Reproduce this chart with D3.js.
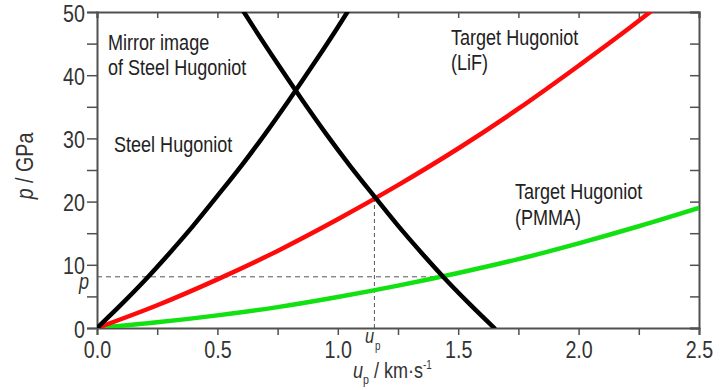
<!DOCTYPE html>
<html><head><meta charset="utf-8">
<script src="https://cdn.jsdelivr.net/npm/d3@7"></script>
<style>
body{margin:0;background:#fff;}
svg{display:block;font-family:"Liberation Sans",Arial,sans-serif;}
</style></head><body>
<svg id="c" width="728" height="390"></svg>
<script>
// Particle velocity (km/s) and pressure (GPa)
const steelU = [0, 0.1, 0.2, 0.3, 0.4, 0.5, 0.6, 0.7, 0.8, 0.9, 1.0, 1.04];
const steelP = [0, 3.7, 7.6, 11.8, 16.2, 20.9, 25.7, 30.8, 36.2, 41.8, 47.6, 50.0];
const mirrorU = [0.61, 0.65, 0.75, 0.85, 0.95, 1.05, 1.15, 1.25, 1.35, 1.45, 1.55, 1.65];
const mirrorP = [50.0, 47.6, 41.8, 36.2, 30.8, 25.7, 20.9, 16.2, 11.8, 7.6, 3.7, 0];
const lifU = [0, 0.25, 0.5, 0.75, 1.0, 1.25, 1.5, 1.75, 2.0, 2.25, 2.3];
const lifP = [0, 3.6, 7.7, 12.2, 17.2, 22.6, 28.4, 34.7, 41.5, 48.6, 50.1];
const pmmaU = [0, 0.25, 0.5, 0.75, 1.0, 1.25, 1.5, 1.75, 2.0, 2.25, 2.5];
const pmmaP = [0, 0.9, 2.0, 3.3, 4.9, 6.7, 8.7, 10.9, 13.4, 16.1, 19.0];
// Intersection markers
const upPmma = 1.437, pPmma = 8.1;   // horizontal dashed "p"
const upLif = 1.152, pLif = 20.5;    // vertical dashed "u_p"
// Axis ticks
const xTicks = [0, 0.25, 0.5, 0.75, 1.0, 1.25, 1.5, 1.75, 2.0, 2.25, 2.5];
const xLabels = [0, 0.5, 1.0, 1.5, 2.0, 2.5];
const yTicks = [0, 5, 10, 15, 20, 25, 30, 35, 40, 45, 50];
const yLabels = [0, 10, 20, 30, 40, 50];

const SX = 0.82; // condensed look
const svg = d3.select("#c");
const x = d3.scaleLinear().domain([0, 2.5]).range([97, 699]);
const y = d3.scaleLinear().domain([0, 50]).range([328, 12]);
const axisCol = "#505050";

svg.append("defs").append("clipPath").attr("id", "clip")
  .append("rect").attr("x", 97).attr("y", 12).attr("width", 602).attr("height", 316);

// dashed guide lines
svg.append("line").attr("x1", x(0)).attr("x2", x(upPmma)).attr("y1", y(pPmma)).attr("y2", y(pPmma))
  .attr("stroke", "#555").attr("stroke-width", 1).attr("stroke-dasharray", "5,4");
svg.append("line").attr("x1", x(upLif)).attr("x2", x(upLif)).attr("y1", y(0)).attr("y2", y(pLif))
  .attr("stroke", "#555").attr("stroke-width", 1).attr("stroke-dasharray", "4,3");

// axes
const fmt = d => xLabels.includes(d) ? d.toFixed(1) : "";
const gB = svg.append("g").attr("transform", `translate(0,${y(0)})`)
  .call(d3.axisBottom(x).tickValues(xTicks).tickSize(7).tickPadding(3).tickFormat(fmt));
const gT = svg.append("g").attr("transform", `translate(0,${y(50)})`)
  .call(d3.axisTop(x).tickValues(xTicks).tickSize(-6).tickFormat(""));
const gL = svg.append("g").attr("transform", `translate(${x(0)},0)`)
  .call(d3.axisLeft(y).tickValues(yTicks).tickSize(10).tickPadding(1).tickFormat(d => yLabels.includes(d) ? d : ""));
const gR = svg.append("g").attr("transform", `translate(${x(2.5)},0)`)
  .call(d3.axisRight(y).tickValues(yTicks).tickSize(-9).tickFormat(""));
[gB, gT, gL, gR].forEach(g => {
  g.select(".domain").attr("stroke", axisCol).attr("stroke-width", 2);
  g.selectAll(".tick line").attr("stroke", axisCol).attr("stroke-width", 1.5);
  g.selectAll(".tick text").attr("fill", "#333").style("font-size", "24px")
    .style("font-family", '"Liberation Sans",Arial,sans-serif');
});
gB.selectAll(".tick text").attr("dy", "0.85em").attr("transform", `scale(${SX},1)`);
gL.selectAll(".tick text").attr("dy", "0.38em").attr("x", -12 / SX).attr("transform", `scale(${SX},1)`);

// curves
const line = d3.line().x(d => x(d[0])).y(d => y(d[1])).curve(d3.curveMonotoneX);
const series = [
  {u: pmmaU, p: pmmaP, c: "#11e011"},
  {u: lifU, p: lifP, c: "#ff0a0a"},
  {u: steelU, p: steelP, c: "#000"},
  {u: mirrorU, p: mirrorP, c: "#000"}
];
series.forEach(s => {
  svg.append("path").attr("clip-path", "url(#clip)")
    .datum(s.u.map((u, i) => [u, s.p[i]]))
    .attr("d", line).attr("fill", "none").attr("stroke", s.c)
    .attr("stroke-width", 4.5).attr("stroke-linecap", "round");
});

// annotations
const ann = [
  {t: "Mirror image", x: 108, y: 50},
  {t: "of Steel Hugoniot", x: 108, y: 75},
  {t: "Steel Hugoniot", x: 114, y: 152},
  {t: "Target Hugoniot", x: 451, y: 45},
  {t: "(LiF)", x: 451, y: 70},
  {t: "Target Hugoniot", x: 515, y: 199},
  {t: "(PMMA)", x: 515, y: 225}
];
svg.selectAll("text.ann").data(ann).enter().append("text").attr("class", "ann")
  .attr("transform", d => `translate(${d.x},${d.y}) scale(${SX},1)`).text(d => d.t)
  .attr("fill", "#222").style("font-size", "22px");

// p marker label
svg.append("text").attr("transform", `translate(79,289) scale(${SX},1)`).text("p")
  .style("font-size", "22px").style("font-style", "italic").attr("fill", "#333");
// u_p marker label
const up = svg.append("text").attr("transform", `translate(365,343) scale(${SX},1)`)
  .attr("fill", "#333").style("font-size", "20px");
up.append("tspan").text("u").style("font-style", "italic");
up.append("tspan").text("p").style("font-size", "12px").attr("dy", 7).attr("dx", 1);

// axis titles
const xt = svg.append("text").attr("transform", `translate(353,378) scale(${SX},1)`)
  .attr("fill", "#333").style("font-size", "22px");
xt.append("tspan").text("u").style("font-style", "italic");
xt.append("tspan").text("p").style("font-size", "13px").attr("dy", 6);
xt.append("tspan").text(" / km·s").attr("dy", -6);
xt.append("tspan").text("-1").style("font-size", "12px").attr("dy", -9);

const yt = svg.append("text").attr("transform", `translate(33,166) rotate(-90) scale(${SX},1)`)
  .attr("text-anchor", "middle").attr("fill", "#333").style("font-size", "24px");
yt.append("tspan").text("p").style("font-style", "italic");
yt.append("tspan").text(" / GPa");
</script>
</body></html>
